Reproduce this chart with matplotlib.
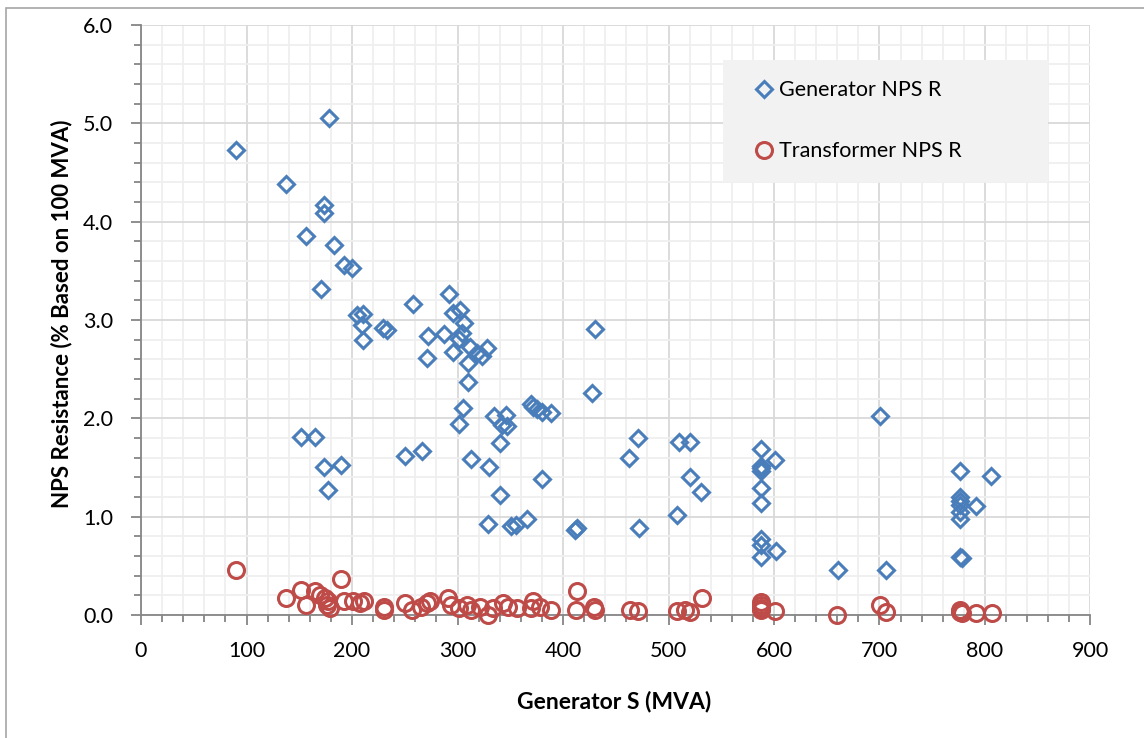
import matplotlib.pyplot as plt
from matplotlib.patches import Rectangle
from matplotlib.ticker import MultipleLocator

plt.rcParams['font.family'] = ['Lato', 'DejaVu Sans']

# Generator NPS R
gen_s = [90, 178.5, 137, 173.5, 173.5, 156, 183, 192, 200, 171,
         204.5, 210.5, 209, 210.5, 229.5, 233, 258, 292, 272, 287,
         271, 296, 302, 306, 296, 304, 301, 312, 310, 323,
         328, 318, 310, 305, 301, 152, 165, 173, 190, 177.5,
         250, 266, 312.5, 330, 340, 329, 351, 355, 366, 335,
         346, 342, 347, 340, 370, 372, 375, 380, 389, 380.5,
         430.5, 427.5, 411, 413, 471.5, 463, 472, 510, 520, 520,
         530.5, 508, 588, 601, 588, 588, 588, 588, 588, 588,
         588, 602, 588, 661, 700.5, 706, 776, 806, 776, 776,
         776, 791.5, 776, 776, 776, 778]
gen_r = [4.73, 5.05, 4.38, 4.17, 4.09, 3.85, 3.76, 3.56, 3.53, 3.32,
         3.05, 3.06, 2.95, 2.80, 2.92, 2.90, 3.16, 3.26, 2.84, 2.86,
         2.61, 3.07, 3.10, 2.97, 2.67, 2.87, 2.81, 2.73, 2.56, 2.63,
         2.72, 2.66, 2.37, 2.11, 1.94, 1.81, 1.81, 1.51, 1.53, 1.27,
         1.62, 1.67, 1.59, 1.50, 1.22, 0.93, 0.90, 0.92, 0.98, 2.02,
         2.03, 1.93, 1.92, 1.75, 2.15, 2.12, 2.09, 2.06, 2.05, 1.38,
         2.91, 2.26, 0.86, 0.88, 1.80, 1.60, 0.88, 1.76, 1.76, 1.40,
         1.25, 1.02, 1.69, 1.58, 1.52, 1.49, 1.46, 1.29, 1.14, 0.77,
         0.71, 0.65, 0.59, 0.46, 2.02, 0.46, 1.46, 1.41, 1.20, 1.16,
         1.12, 1.11, 1.05, 0.98, 0.59, 0.58]

# Transformer NPS R
tr_s = [90, 190, 137, 152, 165, 156, 170, 174, 177.5, 179,
        176, 192, 201, 211, 208, 230, 230, 250, 257, 265,
        271, 274, 291, 294, 301, 309, 313, 321, 329, 334,
        343, 348, 356, 372, 370, 378, 389, 413, 412, 429,
        430, 463.5, 471, 508, 516, 520, 531.5, 588, 588, 588,
        588, 601, 660, 700.5, 706, 776, 776, 778, 791.5, 807]
tr_r = [0.46, 0.37, 0.17, 0.25, 0.24, 0.10, 0.20, 0.17, 0.14, 0.07,
        0.10, 0.14, 0.14, 0.14, 0.12, 0.08, 0.05, 0.12, 0.05, 0.08,
        0.12, 0.14, 0.17, 0.10, 0.07, 0.10, 0.05, 0.08, 0.00, 0.07,
        0.12, 0.08, 0.07, 0.14, 0.07, 0.08, 0.05, 0.24, 0.05, 0.08,
        0.05, 0.05, 0.04, 0.04, 0.05, 0.03, 0.17, 0.13, 0.10, 0.07,
        0.05, 0.04, 0.00, 0.10, 0.03, 0.05, 0.03, 0.02, 0.02, 0.02]

blue = '#4A7EBB'
red = '#BE4B48'

fig = plt.figure(figsize=(11.44, 7.38), dpi=100)
ax = fig.add_axes([0.1233, 0.1667, 0.8299, 0.7994])

# outer chart border
fig.patches.append(Rectangle((6 / 1144, -0.1), 1.2, 1 - 8 / 738 + 0.1,
                             transform=fig.transFigure, fill=False,
                             edgecolor='#A6A6A6', linewidth=1.2))

ax.plot(gen_s, gen_r, linestyle='none', marker='D', markersize=8.5,
        markerfacecolor='none', markeredgecolor=blue, markeredgewidth=2.2,
        label='Generator NPS R', zorder=3, clip_on=False)
ax.plot(tr_s, tr_r, linestyle='none', marker='o', markersize=11.5,
        markerfacecolor='none', markeredgecolor=red, markeredgewidth=2.2,
        label='Transformer NPS R', zorder=3, clip_on=False)

ax.set_xlim(0, 900)
ax.set_ylim(0, 6)
ax.xaxis.set_major_locator(MultipleLocator(100))
ax.xaxis.set_minor_locator(MultipleLocator(20))
ax.yaxis.set_major_locator(MultipleLocator(1))
ax.yaxis.set_minor_locator(MultipleLocator(0.2))
ax.yaxis.set_major_formatter(plt.FormatStrFormatter('%.1f'))

# gridlines
ax.grid(which='major', color='#D9D9D9', linewidth=1.3)
ax.grid(which='minor', color='#EFEFEF', linewidth=1.3)
ax.set_axisbelow(True)

for side in ['top', 'right']:
    ax.spines[side].set_visible(False)
for side in ['left', 'bottom']:
    ax.spines[side].set_color('#868686')
    ax.spines[side].set_linewidth(1.3)

ax.tick_params(which='major', direction='out', length=7, width=1.3,
               color='#868686', labelsize=15.5)
ax.tick_params(axis='y', which='major', pad=13)
ax.tick_params(axis='x', which='major', pad=12)
ax.tick_params(which='minor', direction='out', length=5, width=1.3,
               color='#868686')

ax.set_xlabel('Generator S (MVA)', fontsize=16.5, fontweight='bold')
ax.set_ylabel('NPS Resistance (% Based on 100 MVA)', fontsize=16,
              fontweight='bold')
ax.xaxis.set_label_coords(0.498, -0.128)
ax.yaxis.set_label_coords(-0.072, 0.51)

# legend box
ax.add_patch(Rectangle((0.613, 0.734), 0.342, 0.207, transform=ax.transAxes,
                       facecolor='#F2F2F2', edgecolor='none', zorder=5))
leg = ax.legend(loc='center left', bbox_to_anchor=(0.647, 0.8375), frameon=False,
                fontsize=15.5, handlelength=0.8, handletextpad=0.3,
                labelspacing=1.9, borderaxespad=0, borderpad=0)
leg.set_zorder(6)

fig.savefig('out.png', dpi=100)
